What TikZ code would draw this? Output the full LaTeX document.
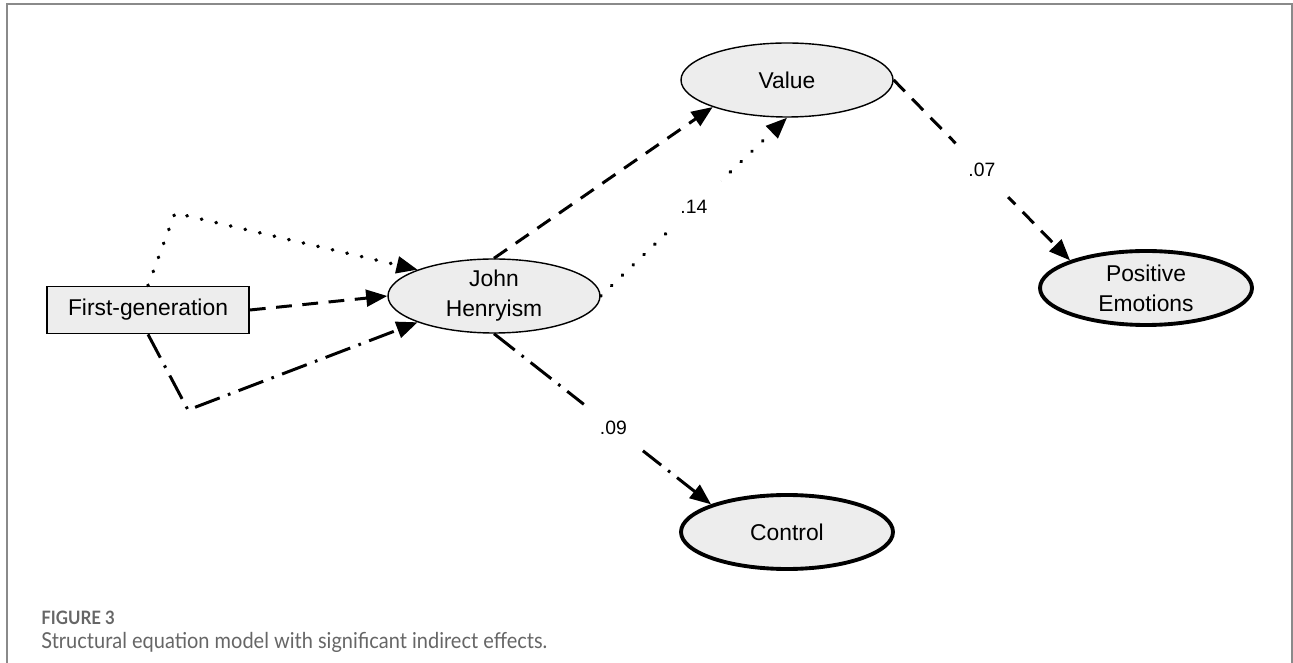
\documentclass[tikz,border=0pt]{standalone}
\usepackage{fontspec}
\setmainfont{Liberation Sans}
\newfontfamily\capfont[FakeStretch=0.91]{Lato}
\usetikzlibrary{shapes.geometric,arrows.meta}
\definecolor{nodefill}{HTML}{EDEDED}
\definecolor{capgray}{HTML}{666666}
\definecolor{framegray}{HTML}{8A8A8A}

\begin{document}
\begin{tikzpicture}
    \tikzset{
      latent/.style={ellipse, draw, fill=nodefill, line width=0.8pt,
                     minimum width=4.24cm, minimum height=1.48cm,
                     inner sep=0pt, align=center,
                     font=\fontsize{13}{17}\selectfont},
      outcome/.style={latent, line width=2.2pt},
      observed/.style={rectangle, draw, fill=nodefill, line width=1pt,
                       minimum width=4.04cm, minimum height=0.94cm,
                       font=\fontsize{13}{17}\selectfont},
      effect/.style={line width=1.7pt, -{Triangle[length=12pt,width=9.5pt]}},
      dashline/.style={effect, dash pattern=on 9pt off 6pt},
      dotline/.style={effect, line width=2pt, line cap=round,
                      dash pattern=on 0.3pt off 8.2pt},
      dashdotline/.style={effect, dash pattern=on 15pt off 5pt on 1.5pt off 5pt},
      coef/.style={circle, fill=white, minimum size=1.5cm, inner sep=0pt,
                   font=\fontsize{11}{13}\selectfont}
    }

    \useasboundingbox (0,0) rectangle (25.86,-13.26);
    \draw[framegray, line width=0.6pt]
      (0.14,-13.26) -- (0.14,-0.08) -- (25.84,-0.08) -- (25.84,-13.26);

    \node[observed] (firstgen) at (2.96,-6.2) {First-generation};
    \node[latent] (jh) at (9.88,-5.92) {John\\Henryism};
    \node[latent] (value) at (15.74,-1.6) {Value};
    \node[outcome] (posemo) at (22.92,-5.76) {Positive\\Emotions};
    \node[outcome] (control) at (15.74,-10.64) {Control};

    % bends of the two outer paths
    \coordinate (bendup) at (3.5,-4.26);
    \coordinate (benddown) at (3.76,-8.2);

    % First-generation to John Henryism
    \draw[dotline] (firstgen.north) -- (bendup) -- (jh.161);
    \draw[dashline] (firstgen.east) -- (jh.west);
    \draw[dashdotline] (firstgen.south) -- (benddown) -- (jh.199);

    % indirect paths
    \draw[dashline] (jh.north) -- (value.200);
    \draw[dotline] (jh.east) -- node[coef] {.14} (value.south);
    \draw[dashline] (value.east) -- node[coef] {.07} (posemo.160);
    \draw[dashdotline] (jh.south) -- node[coef, pos=0.55] {.09} (control.160);

    \node[anchor=base west, inner sep=0pt, text=capgray,
          font=\capfont\bfseries\fontsize{10.5}{12}\selectfont]
      (figlabel) at (0.82,-12.5) {FIGURE 3};
    \node[anchor=base west, inner sep=0pt, text=capgray,
          font=\capfont\fontsize{12.5}{14}\selectfont]
      (caption) at (0.82,-12.96)
      {Structural equation model with significant indirect effects.};
  \end{tikzpicture}
\end{document}
